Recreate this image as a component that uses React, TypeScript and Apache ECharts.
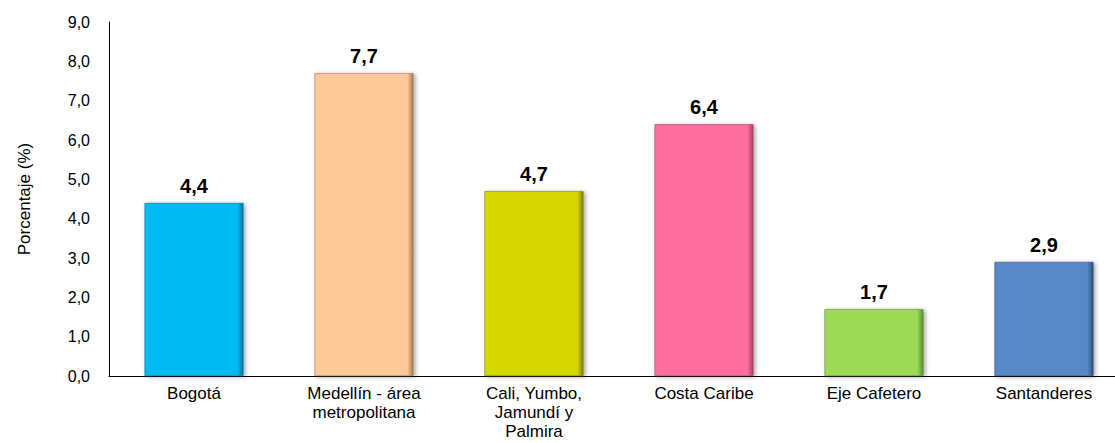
import React, { useEffect, useRef } from "react";
import * as echarts from "echarts";

const categories = [
  "Bogotá",
  "Medellín - área\nmetropolitana",
  "Cali, Yumbo,\nJamundí y\nPalmira",
  "Costa Caribe",
  "Eje Cafetero",
  "Santanderes",
];
const values = [4.4, 7.7, 4.7, 6.4, 1.7, 2.9];
const barColors = ["#00BAF2", "#FFC897", "#D7D700", "#FF6C9E", "#9CDA58", "#5888C8"];
const darkColors = ["#00749A", "#A07A55", "#7E7E00", "#A8405F", "#5C8A2E", "#2F4C78"];
const yTicks = [0, 1, 2, 3, 4, 5, 6, 7, 8, 9];

const fmt = (v: number) => v.toFixed(1).replace(".", ",");

export default function App() {
  const ref = useRef<HTMLDivElement>(null);
  useEffect(() => {
    if (!ref.current) return;
    const chart = echarts.init(ref.current, undefined, { renderer: "svg" });
    const font = "'Liberation Sans', Arial, sans-serif";
    chart.setOption({
      animation: false,
      backgroundColor: "#ffffff",
      grid: {
        left: 109,
        top: 22,
        width: 1020,
        height: 354,
        containLabel: false,
        outerBoundsMode: "none",
      },
      xAxis: {
        type: "category",
        data: categories,
        axisLine: { show: true, lineStyle: { color: "#000", width: 1 } },
        axisTick: { show: false },
        axisLabel: {
          interval: 0,
          color: "#000",
          fontFamily: font,
          fontSize: 17,
          lineHeight: 19,
          margin: 8,
        },
      },
      yAxis: {
        type: "value",
        min: yTicks[0],
        max: yTicks[yTicks.length - 1],
        interval: 1,
        name: "Porcentaje (%)",
        nameLocation: "middle",
        nameGap: 76,
        nameTextStyle: { color: "#000", fontFamily: font, fontSize: 17 },
        axisLine: { show: true, lineStyle: { color: "#000", width: 1 } },
        axisTick: { show: false },
        splitLine: { show: false },
        axisLabel: {
          color: "#000",
          fontFamily: font,
          fontSize: 16,
          margin: 19,
          formatter: (v: number) => fmt(v),
        },
      },
      series: [
        {
          type: "bar",
          barWidth: 99,
          data: values.map((v, i) => ({
            value: v,
            itemStyle: {
              color: new echarts.graphic.LinearGradient(1, 0, 0, 0, [
                { offset: 0, color: darkColors[i] },
                { offset: 0.06, color: barColors[i] },
                { offset: 0.95, color: barColors[i] },
                { offset: 1, color: barColors[i] },
              ]),
              borderColor: darkColors[i],
              borderWidth: 0.6,
              shadowColor: "rgba(0,0,0,0.35)",
              shadowBlur: 4,
              shadowOffsetX: 2,
              shadowOffsetY: 1,
            },
          })),
          label: {
            show: true,
            position: "top",
            distance: 7,
            color: "#000",
            fontFamily: font,
            fontWeight: "bold",
            fontSize: 20,
            formatter: (p: any) => fmt(p.value),
          },
        },
      ],
    });
    return () => chart.dispose();
  }, []);
  return (
    <div
      ref={ref}
      style={{ position: "fixed", left: 0, top: 0, width: 1115, height: 443 }}
    />
  );
}
